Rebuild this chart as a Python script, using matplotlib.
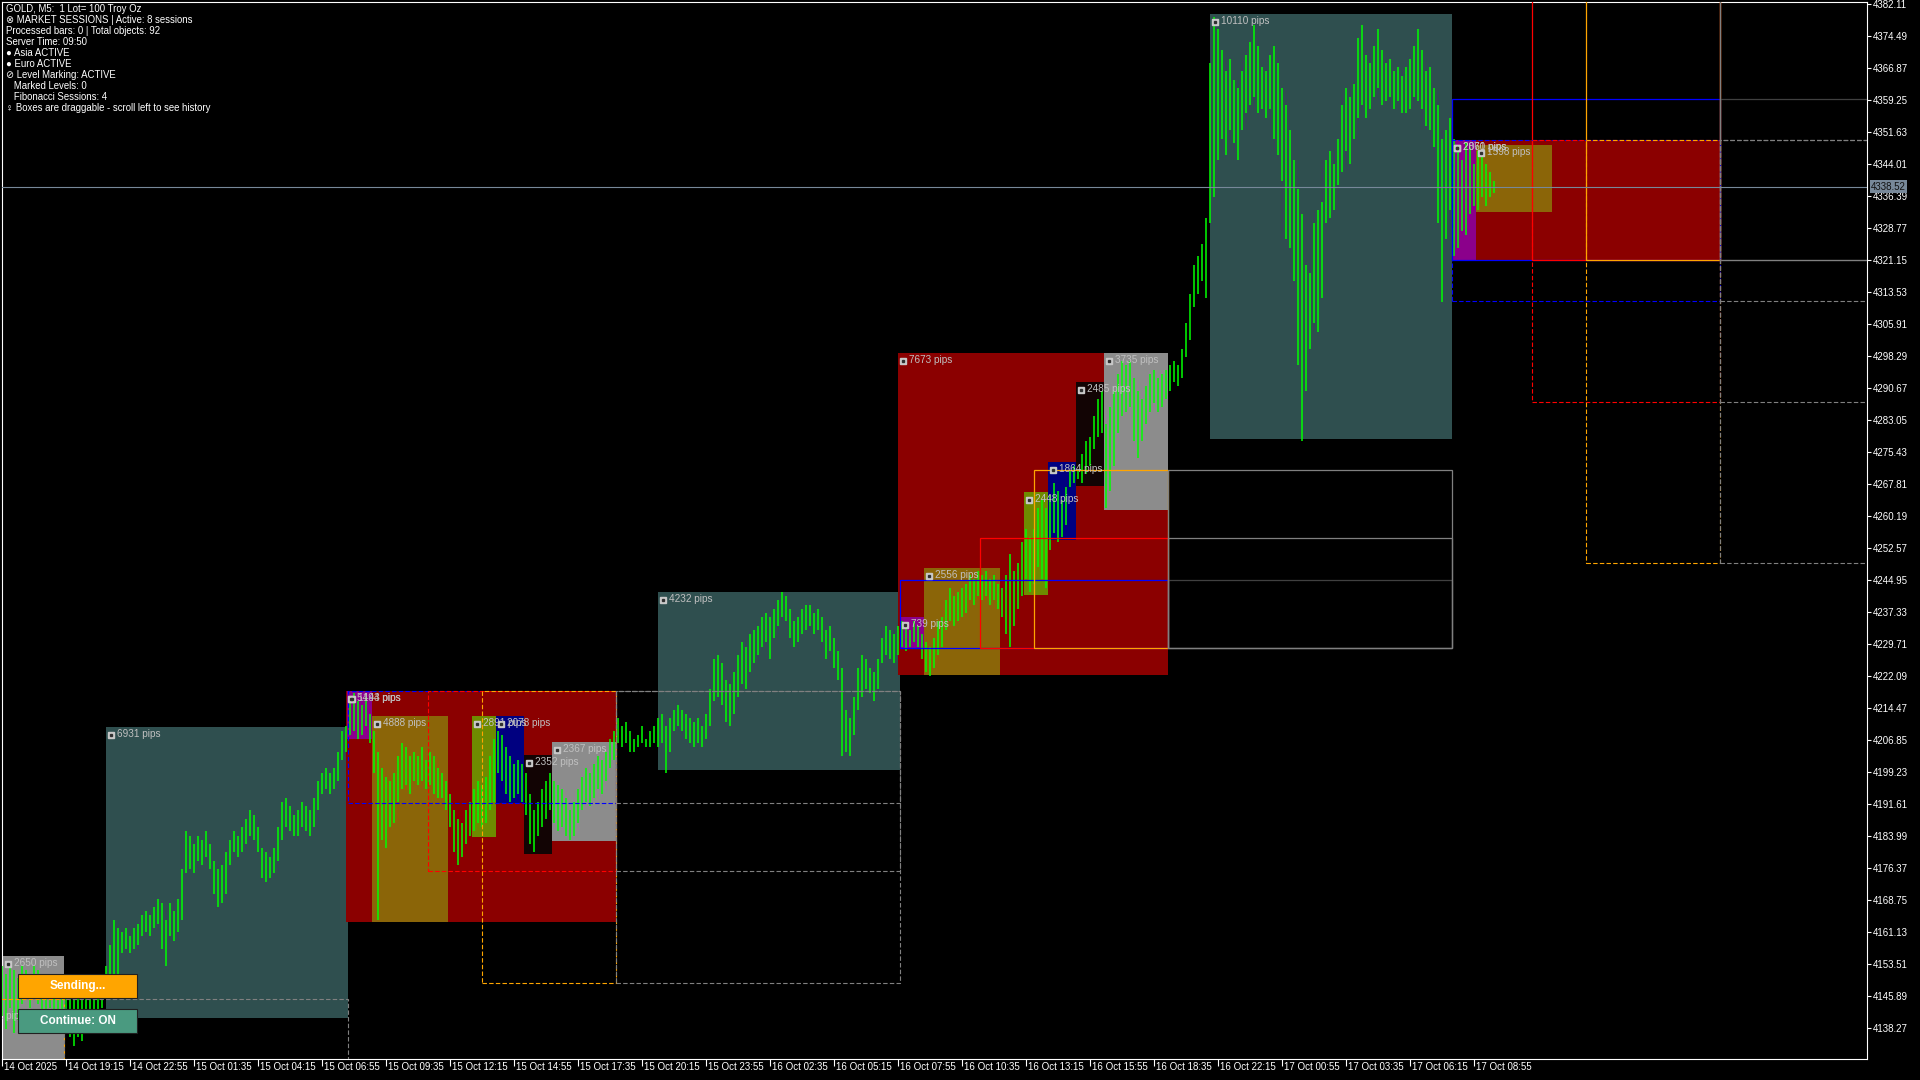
import numpy as np
import matplotlib
matplotlib.use('Agg')
import matplotlib.pyplot as plt
from matplotlib.patches import Rectangle
from matplotlib.transforms import offset_copy, blended_transform_factory, ScaledTranslation

plt.rcParams['font.family'] = ['Liberation Sans', 'DejaVu Sans']

# ---- price bars (GOLD M5), one high/low pair every 2 bars ----
HIGH = [
    4153, 4151, 4154, 4152, 4150, 4153, 4152, 4151, 4153, 4152, 4150, 4149, 4150, 4148, 4147, 4146,
    4147, 4145, 4146, 4147, 4146, 4147, 4148, 4147, 4149, 4150,
    4153, 4158, 4164, 4162, 4161, 4162, 4160, 4162, 4163, 4165, 4166, 4165, 4167, 4169, 4168, 4164,
    4168, 4166, 4169, 4176, 4185, 4184, 4182, 4184, 4183, 4185, 4182, 4178, 4176, 4177, 4180, 4183,
    4185, 4184, 4186, 4188, 4190, 4189, 4186, 4181, 4180, 4179, 4181, 4186, 4192, 4193, 4191, 4189,
    4190, 4192, 4191, 4190, 4193, 4197, 4199, 4200, 4199, 4200, 4204, 4209, 4210,
    4217, 4218, 4216, 4215, 4217, 4213, 4209, 4204, 4200, 4198, 4197, 4199, 4203, 4206, 4205, 4203,
    4204, 4203, 4205, 4202, 4204, 4203, 4200, 4199, 4197, 4194, 4190, 4188, 4187, 4190, 4192, 4195,
    4197, 4196, 4198, 4203, 4207, 4209, 4208, 4205, 4203, 4201, 4202, 4201, 4199, 4194, 4190, 4192,
    4195, 4197, 4199, 4197, 4196, 4195, 4193, 4190, 4192, 4195, 4198, 4200, 4199, 4201, 4203, 4202,
    4204, 4207, 4209,
    4212, 4210, 4211, 4209, 4207, 4208, 4210, 4207, 4209, 4210,
    4212, 4213, 4210, 4212, 4214, 4215, 4214, 4213, 4212, 4211, 4212, 4210, 4213, 4219, 4226, 4227,
    4225, 4221, 4220, 4223, 4227, 4230, 4229, 4232, 4233, 4234, 4236, 4237, 4236, 4238, 4240, 4242,
    4241, 4238, 4235, 4236, 4238, 4239, 4239, 4237, 4238, 4236, 4233, 4234, 4231, 4228, 4224, 4214,
    4212, 4217, 4224, 4227, 4226, 4224, 4223, 4226, 4231, 4234, 4233, 4232, 4234,
    4235, 4234, 4233, 4235, 4234, 4232, 4230, 4229, 4231, 4235, 4236, 4240, 4243, 4241, 4242, 4243,
    4244, 4246, 4245, 4247, 4246, 4247, 4245, 4246, 4244, 4243, 4246, 4251, 4247, 4249, 4254, 4257,
    4255, 4257, 4262, 4264, 4262, 4265, 4268, 4266, 4264, 4267, 4271, 4272, 4271, 4275, 4278, 4279,
    4284, 4288, 4290, 4282, 4286, 4290, 4294, 4297, 4296, 4297, 4293, 4290, 4288, 4291, 4294, 4295,
    4293, 4294, 4295,
    4296, 4297, 4296, 4300, 4306, 4313, 4320, 4322, 4325, 4331,
    4368, 4379, 4376, 4371, 4366, 4369, 4364, 4362, 4366, 4370, 4373, 4377, 4372, 4367, 4366, 4370,
    4372, 4368, 4362, 4358, 4352, 4345, 4338, 4332, 4320, 4318, 4330, 4333, 4335, 4345, 4347, 4344,
    4350, 4358, 4362, 4360, 4363, 4374, 4377, 4370, 4368, 4372, 4376, 4371, 4368, 4369, 4366, 4367,
    4365, 4367, 4369, 4372, 4376, 4371, 4366, 4367, 4362, 4358, 4350, 4352, 4355,
    4350, 4348, 4345, 4349, 4348, 4344, 4347, 4346, 4344, 4342, 4340,
]
LOW = [
    4141, 4138, 4143, 4137, 4140, 4144, 4145, 4143, 4146, 4144, 4142, 4141, 4143, 4140, 4139, 4138,
    4140, 4136, 4134, 4136, 4135, 4139, 4141, 4140, 4142, 4143,
    4145, 4148, 4151, 4150, 4156, 4157, 4156, 4157, 4158, 4160, 4161, 4160, 4162, 4163, 4157, 4153,
    4160, 4159, 4161, 4164, 4175, 4176, 4175, 4178, 4177, 4179, 4176, 4170, 4167, 4168, 4170, 4177,
    4180, 4179, 4180, 4182, 4184, 4183, 4180, 4174, 4173, 4174, 4175, 4178, 4183, 4186, 4185, 4184,
    4184, 4186, 4185, 4184, 4186, 4190, 4194, 4195, 4194, 4195, 4197, 4202, 4204,
    4208, 4209, 4207, 4208, 4210, 4206, 4199, 4164, 4183, 4181, 4186, 4187, 4192, 4195, 4196, 4194,
    4197, 4196, 4197, 4195, 4196, 4194, 4193, 4193, 4190, 4186, 4180, 4177, 4179, 4182, 4184, 4185,
    4187, 4186, 4187, 4190, 4192, 4199, 4197, 4194, 4192, 4193, 4194, 4192, 4189, 4182, 4180, 4184,
    4186, 4188, 4190, 4187, 4185, 4186, 4184, 4183, 4184, 4187, 4190, 4192, 4191, 4193, 4195, 4194,
    4197, 4200, 4202,
    4206, 4205, 4206, 4204, 4204, 4205, 4206, 4205, 4205, 4206,
    4205, 4206, 4199, 4204, 4209, 4210, 4209, 4207, 4206, 4205, 4206, 4205, 4207, 4210, 4216, 4217,
    4215, 4211, 4210, 4213, 4217, 4220, 4219, 4223, 4225, 4227, 4229, 4230, 4226, 4231, 4234, 4236,
    4235, 4231, 4229, 4230, 4232, 4233, 4234, 4232, 4233, 4230, 4226, 4228, 4224, 4221, 4203, 4204,
    4203, 4208, 4214, 4217, 4219, 4218, 4216, 4219, 4225, 4227, 4226, 4225, 4227,
    4229, 4228, 4229, 4230, 4229, 4226, 4223, 4222, 4224, 4227, 4229, 4233, 4235, 4234, 4235, 4236,
    4237, 4240, 4239, 4241, 4240, 4241, 4239, 4240, 4238, 4236, 4232, 4229, 4234, 4238, 4241, 4245,
    4242, 4244, 4248, 4245, 4243, 4252, 4256, 4254, 4255, 4258, 4267, 4268, 4269, 4268, 4270, 4272,
    4276, 4279, 4280, 4262, 4266, 4272, 4280, 4284, 4285, 4286, 4278, 4274, 4278, 4282, 4285, 4287,
    4285, 4286, 4288,
    4290, 4292, 4291, 4293, 4298, 4302, 4310, 4313, 4316, 4312,
    4330, 4336, 4345, 4350, 4346, 4352, 4349, 4345, 4352, 4356, 4358, 4360, 4356, 4357, 4355, 4357,
    4350, 4346, 4340, 4326, 4324, 4316, 4296, 4278, 4290, 4300, 4306, 4304, 4312, 4330, 4331, 4333,
    4339, 4342, 4347, 4344, 4350, 4355, 4358, 4355, 4357, 4360, 4362, 4358, 4359, 4360, 4357, 4359,
    4356, 4356, 4357, 4360, 4359, 4357, 4353, 4352, 4348, 4330, 4311, 4326, 4333,
    4322, 4324, 4328, 4327, 4332, 4334, 4333, 4336, 4334, 4336, 4337,
]
LAST_PRICE = 4338.52

# ---- session boxes ----
BOX_START = [0.3, 52, 172, 172.5, 185, 235, 247, 261, 275, 328, 448, 449, 461, 511, 523, 537, 551,
             604, 725, 725, 737]
BOX_END = [31, 173, 307, 185, 223, 247, 261, 275, 307, 449, 583, 461, 499, 523, 537, 551, 583,
           725, 859, 737, 775]
BOX_HIGH = [4155.3, 4209.94, 4218.44, 4218.44, 4212.38, 4212.5, 4212.5, 4203.2, 4206.3, 4242.0,
            4298.93, 4236.0, 4247.73, 4265.83, 4272.97, 4292.03, 4298.93, 4379.6, 4349.7, 4349.7,
            4348.4]
BOX_LOW = [4128.8, 4140.63, 4163.5, 4207.0, 4163.5, 4183.59, 4191.72, 4179.68, 4182.63, 4199.68,
           4222.2, 4228.61, 4222.17, 4241.35, 4254.33, 4267.18, 4261.58, 4278.5, 4321.0, 4321.0,
           4332.42]
BOX_LABEL = ['2650 pips', '6931 pips', '5494 pips', '1143 pips', '4888 pips', '2891 pips',
             '2078 pips', '2352 pips', '2367 pips', '4232 pips', '7673 pips', '739 pips',
             '2556 pips', '2448 pips', '1864 pips', '2485 pips', '3735 pips', '10110 pips',
             '2870 pips', '2061 pips', '1598 pips']
BOX_KIND = ['gray', 'asia', 'euro', 'h1', 'h2', 'h3', 'h4', 'h5', 'h6', 'asia', 'euro', 'h1', 'h2',
            'h3', 'h4', 'h5', 'h6', 'asia', 'euro', 'h1', 'h2']

# ---- fibonacci session levels ----
SOLID_START = [449, 489, 516, 583, 583, 583, 725, 765, 792, 859, 859]
SOLID_END = [583, 583, 583, 725, 725, 725, 859, 859, 859, 1001, 1001]
SOLID_BASE = [4228.6, 4228.6, 4228.6, 4228.6, 4228.6, 4228.6, 4321.0, 4321.0, 4321.0, 4321.0, 4321.0]
SOLID_LEVEL = [4244.88, 4254.81, 4271.07, 4244.88, 4254.81, 4271.07, 4359.4, 4420.0, 4420.0, 4359.4, 4420.0]
SOLID_KIND = ['blue', 'red', 'orange', 'ext1', 'ext', 'ext', 'blue', 'red', 'orange', 'ext1', 'ext']

DASH_START = [-30, 31, 173, 213, 240, 307, 307, 307, 725, 765, 792, 859, 859, 859]
DASH_END = [31, 173, 307, 307, 307, 449, 449, 449, 859, 859, 859, 1001, 1001, 1001]
DASH_TOP = [4145.0, 4145.0, 4218.44, 4218.44, 4218.44, 4218.44, 4218.44, 4218.44, 4349.7, 4349.7,
            4349.7, 4349.7, 4349.7, 4349.7]
DASH_BOTTOM = [4100.0, 4100.0, 4191.7, 4175.5, 4148.8, 4191.7, 4175.5, 4148.8, 4311.2, 4287.3,
               4248.9, 4311.2, 4287.3, 4248.9]
DASH_KIND = ['orange', 'ext', 'blue', 'red', 'orange', 'ext', 'ext', 'ext', 'blue', 'red', 'orange',
             'ext', 'ext', 'ext']

TIME_LABELS = ['14 Oct 2025', '14 Oct 19:15', '14 Oct 22:55', '15 Oct 01:35', '15 Oct 04:15',
               '15 Oct 06:55', '15 Oct 09:35', '15 Oct 12:15', '15 Oct 14:55', '15 Oct 17:35',
               '15 Oct 20:15', '15 Oct 23:55', '16 Oct 02:35', '16 Oct 05:15', '16 Oct 07:55',
               '16 Oct 10:35', '16 Oct 13:15', '16 Oct 15:55', '16 Oct 18:35', '16 Oct 22:15',
               '17 Oct 00:55', '17 Oct 03:35', '17 Oct 06:15', '17 Oct 08:55']
PRICE_TICKS = [4138.27, 4145.89, 4153.51, 4161.13, 4168.75, 4176.37, 4183.99, 4191.61, 4199.23,
               4206.85, 4214.47, 4222.09, 4229.71, 4237.33, 4244.95, 4252.57, 4260.19, 4267.81,
               4275.43, 4283.05, 4290.67, 4298.29, 4305.91, 4313.53, 4321.15, 4328.77, 4336.39,
               4344.01, 4351.63, 4359.25, 4366.87, 4374.49, 4382.11]

INFO_LINES = ['GOLD, M5:  1 Lot= 100 Troy Oz',
              '\u2297 MARKET SESSIONS | Active: 8 sessions',
              'Processed bars: 0 | Total objects: 92',
              'Server Time: 09:50',
              '\u25cf Asia ACTIVE',
              '\u25cf Euro ACTIVE',
              '\u2298 Level Marking: ACTIVE',
              '   Marked Levels: 0',
              '   Fibonacci Sessions: 4',
              '\u2640 Boxes are draggable - scroll left to see history']

BOX_COLORS = {'gray': '#8c8c8c', 'asia': '#2f4f4f', 'euro': '#8b0000', 'h1': '#8b008b',
              'h2': '#8b6508', 'h3': '#6e8b00', 'h4': '#000080', 'h5': '#120404', 'h6': '#8c8c8c'}
LINE_COLORS = {'blue': '#0000ff', 'red': '#ff0000', 'orange': '#ffa500', 'ext': '#808080',
               'ext1': '#404040'}

W, H = 1920, 1080
fig = plt.figure(figsize=(19.2, 10.8), dpi=100, facecolor='black')
ax = fig.add_axes([2 / W, 21 / H, 1865 / W, 1057 / H])
ax.set_facecolor('black')
ax.set_xlim(-0.2, 932.3)
ax.set_ylim(4130.82, 4382.51)

# boxes
for s, e, hi, lo, k in zip(BOX_START, BOX_END, BOX_HIGH, BOX_LOW, BOX_KIND):
    ax.add_patch(Rectangle((s, lo), e - s, hi - lo, facecolor=BOX_COLORS[k], edgecolor='none',
                           zorder=1))

# price bars
bar_x = 2 * np.arange(len(HIGH))
ax.vlines(bar_x, LOW, HIGH, color='#00ff00', lw=1.1, zorder=3)

# fib level rectangles
for s, e, b, lv, k in zip(SOLID_START, SOLID_END, SOLID_BASE, SOLID_LEVEL, SOLID_KIND):
    ax.add_patch(Rectangle((s, b), e - s, lv - b, fill=False, edgecolor=LINE_COLORS[k], lw=0.9,
                           zorder=4))
for s, e, t, b, k in zip(DASH_START, DASH_END, DASH_TOP, DASH_BOTTOM, DASH_KIND):
    ax.add_patch(Rectangle((s, b), e - s, t - b, fill=False, edgecolor=LINE_COLORS[k], lw=0.8,
                           linestyle=(0, (4, 2)), zorder=4))

# current price
ax.axhline(LAST_PRICE, color='#778899', lw=0.8, zorder=5)

# box labels
icon_tr = offset_copy(ax.transData, fig, x=5, y=-8, units='dots')
text_tr = offset_copy(ax.transData, fig, x=11, y=-7, units='dots')
for s, hi, lab in zip(BOX_START, BOX_HIGH, BOX_LABEL):
    ax.plot([s], [hi], marker='s', ms=4.6, mfc='#c8c8c8', mec='#c8c8c8', transform=icon_tr,
            zorder=6, clip_on=True)
    ax.plot([s], [hi], marker='s', ms=1.4, mfc='#303030', mec='#303030', transform=icon_tr,
            zorder=7, clip_on=True)
    ax.text(s, hi, lab, transform=text_tr, ha='left', va='center', fontsize=7.2,
            color='#c0c0c0', zorder=7, clip_on=True)
# partly hidden label at the far left
ax.text(-16, 4142.7, '1271 pips', transform=text_tr, ha='left', va='center', fontsize=7.2,
        color='#c0c0c0', zorder=7, clip_on=True)

# axes styling
for sp in ax.spines.values():
    sp.set_color('white')
    sp.set_linewidth(0.8)
ax.yaxis.tick_right()
ax.set_yticks(PRICE_TICKS)
ax.set_yticklabels(['%.2f' % p for p in PRICE_TICKS])
ax.tick_params(axis='y', direction='out', length=3, width=0.8, color='white', pad=1,
               labelsize=7, labelcolor='white')
ax.set_xticks(list(range(0, 32 * len(TIME_LABELS), 32)))
ax.set_xticklabels(TIME_LABELS, ha='left')
ax.tick_params(axis='x', direction='out', length=5, width=0.8, color='white', pad=-2.5,
               labelsize=7, labelcolor='white')
for lbl in ax.get_xticklabels():
    lbl.set_transform(lbl.get_transform() + ScaledTranslation(2 / 100, 0, fig.dpi_scale_trans))

# current price tag on the axis
tag_tr = blended_transform_factory(ax.transAxes, ax.transData) + \
    ScaledTranslation(4 / 100, 0, fig.dpi_scale_trans)
ax.text(1.0, LAST_PRICE, '%.2f' % LAST_PRICE, transform=tag_tr, ha='left', va='center',
        fontsize=7, color='#101010', clip_on=False, zorder=10,
        bbox=dict(boxstyle='square,pad=0.15', fc='#778899', ec='none'))

# info text (top left)
for i, line in enumerate(INFO_LINES):
    fig.text(6 / W, 1 - (9 + 11 * i) / H, line, ha='left', va='center', fontsize=6.9,
             color='white')

# buttons
btn_text = ['Sending...', 'Continue: ON']
btn_color = ['#ffa500', '#4a9a80']
btn_top = [974.3, 1009.3]
for t, c, y0 in zip(btn_text, btn_color, btn_top):
    fig.add_artist(Rectangle((18.3 / W, 1 - (y0 + 24) / H), 119 / W, 24 / H,
                             transform=fig.transFigure, facecolor=c, edgecolor='#202020',
                             lw=0.8, zorder=20))
    fig.text((18.3 + 59.5) / W, 1 - (y0 + 12) / H, t, ha='center', va='center',
             fontsize=8.5, fontweight='bold', color='white', zorder=21)

fig.savefig('out.png', dpi=100, facecolor='black')
